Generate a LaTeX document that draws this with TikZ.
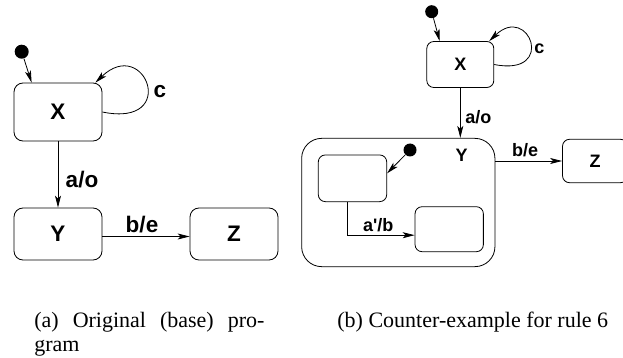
\documentclass[tikz,border=0pt]{standalone}
\usepackage{fontspec}
\setmainfont{Liberation Serif}
\newfontfamily\diafont{Liberation Sans}
\usetikzlibrary{arrows.meta}
\begin{document}
\begin{tikzpicture}[x=1pt,y=-1pt,line width=0.8pt,
  >={Stealth[length=12pt,width=6pt,inset=3pt]},
  bigbox/.style={draw,rounded corners=9pt,inner sep=0pt,minimum width=88pt,font=\diafont\bfseries\fontsize{22.5}{25}\selectfont},
  smallbox/.style={draw,rounded corners=7pt,inner sep=0pt,font=\diafont\bfseries\fontsize{18}{20}\selectfont},
  biglab/.style={font=\diafont\bfseries\fontsize{22.5}{25}\selectfont,inner sep=0pt},
  smalllab/.style={font=\diafont\bfseries\fontsize{18}{20}\selectfont,inner sep=0pt},
  initdot/.style={circle,fill,inner sep=0pt,minimum size=#1},
  caption/.style={font=\fontsize{22}{24}\selectfont,inner sep=0pt}]
\clip (0,0) rectangle (623,358);
\useasboundingbox (0,0) rectangle (623,358);
% ---- left diagram ----
\node[bigbox,minimum height=58pt] (X) at (58,112) {X};
\node[bigbox,minimum height=52pt] (Y) at (58,234) {Y};
\node[bigbox,minimum height=52pt] (Z) at (234,234) {Z};
\node[initdot=14pt] (d1) at (21.7,51.7) {};
\draw[->] (d1) -- ([xshift=18pt]X.north west);
\draw[->] (X.east) .. controls (180,128) and (145,35) .. ([xshift=-7pt]X.north east);
\node[biglab] (lc) at (160,92) {c};
\draw[->] (X.south) -- (Y.north);
\node[biglab] (lao) at (82,180) {a/o};
\draw[->] ([yshift=-2.5pt]Y.east) -- ([yshift=-2.5pt]Z.west);
\node[biglab] (lbe) at (142,225) {b/e};
% ---- right diagram ----
\node[smallbox,minimum width=67pt,minimum height=46pt] (X2) at (460.3,64.5) {X};
\node[initdot=13pt] (d2) at (431.7,11.7) {};
\draw[->] (d2) -- ([xshift=13.3pt]X2.north west);
\draw[->] (X2.east) .. controls (557,77) and (529,3) .. ([xshift=-5pt]X2.north east);
\node[smalllab] (rc) at (539.3,48.3) {c};
\node[draw,rounded corners=20pt,minimum width=193.3pt,minimum height=128.3pt,inner sep=0pt] (Yo) at (398.3,202.5) {};
\node[smalllab] (ylab) at (461.7,155) {Y};
\draw[->] (X2.south) -- (X2.south |- Yo.north);
\node[smalllab] (rao) at (478.3,116.7) {a/o};
\node[smallbox,minimum width=68.4pt,minimum height=46.7pt] (In1) at (352.5,178.3) {};
\node[smallbox,minimum width=68.3pt,minimum height=45pt] (In2) at (449.2,229.2) {};
\node[initdot=13pt] (d3) at (410,150) {};
\draw[->] (d3) -- ([yshift=5pt]In1.east);
\draw[->] ([xshift=-5pt]In1.south) |- ([yshift=-6pt]In2.west);
\node[smalllab] (rab) at (378.3,225) {a'/b};
\node[smallbox,minimum width=65pt,minimum height=43.4pt] (Z2) at (595,161) {Z};
\draw[->] (Yo.east |- Z2.west) -- (Z2.west);
\node[smalllab] (rbe) at (525,150) {b/e};
% ---- captions ----
\node[caption,anchor=base west] (capa) at (34,327) {\parbox[t]{230pt}{(a)\hfill Original\hfill (base)\hfill pro-\\gram}};
\node[caption,anchor=base west] (capb) at (337,327) {(b) Counter-example for rule 6};
\end{tikzpicture}
\end{document}
